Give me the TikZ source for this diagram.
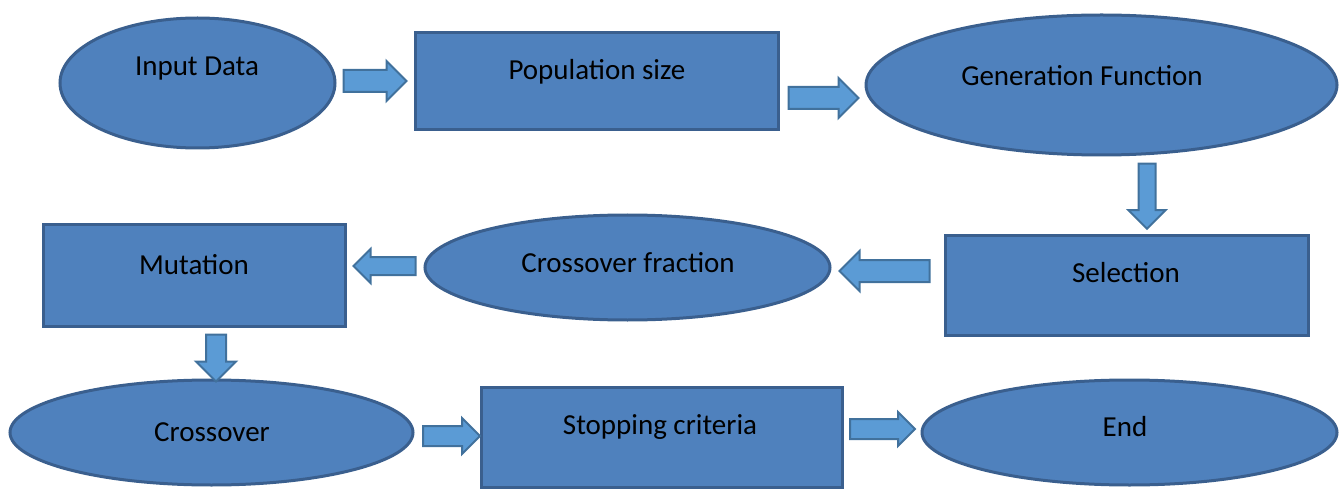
\documentclass[tikz,border=0pt]{standalone}
\usepackage{fontspec}
\setmainfont{Carlito}
\usetikzlibrary{shapes.geometric,shapes.arrows}
\definecolor{boxfill}{HTML}{4F81BD}
\definecolor{boxline}{HTML}{3A5F8E}
\definecolor{arrfill}{HTML}{5B9BD5}
\definecolor{arrline}{HTML}{41719C}
\tikzset{
  oval/.style={ellipse,draw=boxline,fill=boxfill,line width=3pt,inner sep=0pt},
  rect/.style={rectangle,draw=boxline,fill=boxfill,line width=3pt,inner sep=0pt},
  txt/.style={font=\fontsize{29}{33}\selectfont,text=black,inner sep=0pt},
  barrow/.style={single arrow,draw=arrline,fill=arrfill,line width=2pt,minimum width=0pt,inner xsep=0pt,single arrow head indent=0pt}
}
\begin{document}
\begin{tikzpicture}[x=1pt,y=-1pt]
\useasboundingbox (0,0) rectangle (1341,489);
% shapes
\node[oval,minimum width=275pt,minimum height=130pt] (input) at (197.5,83) {};
\node[txt] (tinput) at (197,69) {Input Data};
\node[rect,minimum width=363pt,minimum height=97pt] (pop) at (596.5,81.5) {};
\node[txt] (tpop) at (597,72) {Population size};
\node[oval,minimum width=471pt,minimum height=140pt] (gen) at (1101.5,85) {};
\node[txt] (tgen) at (1082,76) {Generation Function};
\node[rect,minimum width=363pt,minimum height=100pt] (sel) at (1126.5,285) {};
\node[txt] (tsel) at (1126,273) {Selection};
\node[oval,minimum width=405pt,minimum height=105pt] (cf) at (627.5,267.5) {};
\node[txt] (tcf) at (628,263) {Crossover fraction};
\node[rect,minimum width=302pt,minimum height=101pt] (mut) at (194,275.5) {};
\node[txt] (tmut) at (194,265) {Mutation};
\node[oval,minimum width=403pt,minimum height=105pt] (co) at (211.5,432.5) {};
\node[txt] (tco) at (212,432) {Crossover};
\node[rect,minimum width=361pt,minimum height=100pt] (stop) at (661.5,437) {};
\node[txt] (tstop) at (660,427) {Stopping criteria};
\node[oval,minimum width=415pt,minimum height=105pt] (end) at (1129.5,432.5) {};
\node[txt] (tend) at (1125,427) {End};
% block arrows
\node[barrow,minimum height=63pt,inner ysep=10pt,single arrow head extend=9pt] (a1) at (369.5,81) {};
\node[barrow,minimum height=70pt,inner ysep=10pt,single arrow head extend=9pt] (a2) at (818,98) {};
\node[barrow,minimum height=65pt,inner ysep=7.5pt,single arrow head extend=10pt,rotate=-90] (a3) at (1147,192) {};
\node[barrow,minimum height=90pt,inner ysep=10pt,single arrow head extend=9pt,rotate=180] (a4) at (890,271) {};
\node[barrow,minimum height=62pt,inner ysep=8pt,single arrow head extend=8pt,rotate=180] (a5) at (389,266) {};
\node[barrow,minimum height=47pt,inner ysep=9pt,single arrow head extend=10pt,rotate=-90] (a6) at (216,353) {};
\node[barrow,minimum height=57pt,inner ysep=9pt,single arrow head extend=8pt] (a7) at (446.5,436) {};
\node[barrow,minimum height=65pt,inner ysep=9pt,single arrow head extend=7pt] (a8) at (877.5,429) {};
\end{tikzpicture}
\end{document}
